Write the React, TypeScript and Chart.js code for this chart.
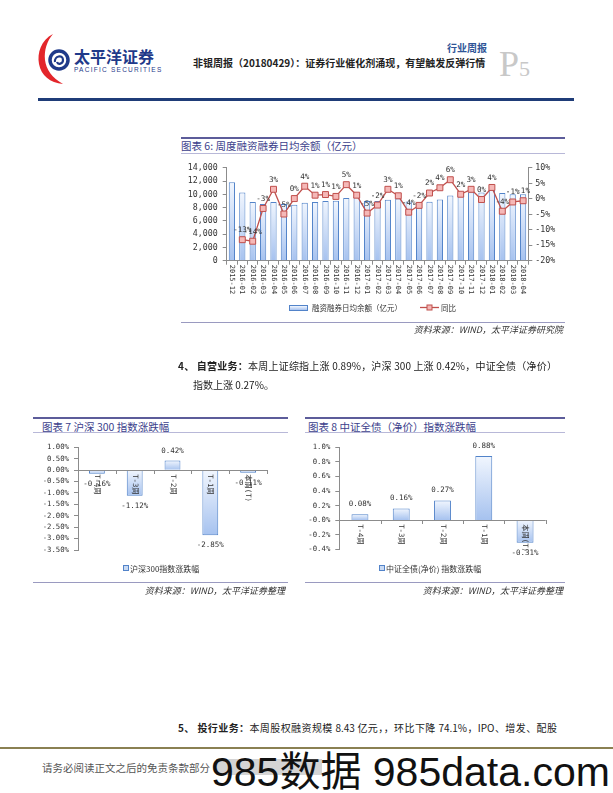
import React, { useEffect, useRef } from "react";
import { Chart, registerables } from "chart.js";
Chart.register(...registerables);

// ---------- data ----------
const months = ["2015-12","2016-01","2016-02","2016-03","2016-04","2016-05","2016-06","2016-07","2016-08","2016-09","2016-10","2016-11","2016-12","2017-01","2017-02","2017-03","2017-04","2017-05","2017-06","2017-07","2017-08","2017-09","2017-10","2017-11","2017-12","2018-01","2018-02","2018-03","2018-04"];
const marginBalance = [11850,10280,8850,8580,8870,8550,8430,8750,8870,9030,9050,9470,9700,9000,9000,9200,9400,8950,8800,8900,9240,9830,10170,10330,10300,10780,10220,10050,10050];
const yoyPct: (number | null)[] = [null,-13.2,-13.7,-3.1,3.1,-4.9,0.1,4.1,1.2,1.4,0.8,4.6,1.2,-4.6,-2.0,3.1,1.0,-4.3,-2.1,1.9,3.6,6.2,1.5,3.1,-0.2,3.7,-4.0,-1.0,-0.6];

const weekLabels = ["T-4周","T-3周","T-2周","T-1周","本周(T)"];
const hs300Change = [-0.16,-1.12,0.42,-2.85,-0.11];
const bondChange = [0.08,0.16,0.27,0.88,-0.31];

const balanceAxis = { min: 0, max: 14000, step: 2000 };
const yoyAxis = { min: -20, max: 10, step: 5 };
const hs300Axis = { min: -3.5, max: 1, step: 0.5 };
const bondAxis = { min: -0.4, max: 1, step: 0.2 };

// ---------- styles ----------
const AXIS = "#8c8c8c";
const MONO = "'DejaVu Sans Mono', 'Noto Sans CJK SC', monospace";
const CJK = "'Noto Sans CJK SC', 'Noto Sans', sans-serif";
const TITLE_COLOR = "#3c3f8c";

function barGradient(c: any) {
  const chart = c.chart;
  const axisId = (c.dataset && c.dataset.yAxisID) || "y";
  const y = chart.scales && chart.scales[axisId];
  const v = c.raw;
  if (!y || typeof v !== "number") return "#c5d7f2";
  const top = y.getPixelForValue(Math.max(v, 0));
  const bot = y.getPixelForValue(Math.min(v, 0));
  if (!isFinite(top) || !isFinite(bot) || Math.abs(top - bot) < 0.5) return "#c5d7f2";
  const g = chart.ctx.createLinearGradient(0, top, 0, bot);
  g.addColorStop(0, "#f1f6fe");
  g.addColorStop(1, "#a6c2ef");
  return g;
}

const rotatedLabels = {
  id: "rotLabels",
  afterDraw(chart: any, _a: any, opts: any) {
    const { ctx, chartArea } = chart;
    const xs = chart.scales.x;
    const ys = chart.scales[opts.axis || "y"];
    const y0 = opts.atZero ? ys.getPixelForValue(0) : chartArea.bottom;
    ctx.save();
    ctx.font = opts.font;
    ctx.fillStyle = opts.color;
    ctx.textAlign = "left";
    ctx.textBaseline = "middle";
    (chart.data.labels as string[]).forEach((lab, i) => {
      const px = xs.getPixelForValue(i);
      ctx.save();
      ctx.translate(px, y0 + opts.gap);
      ctx.rotate(Math.PI / 2);
      ctx.fillText(lab, 0, 0);
      ctx.restore();
    });
    ctx.restore();
  },
};

const zeroAxis = {
  id: "zeroAxis",
  afterDatasetsDraw(chart: any) {
    const { ctx, chartArea } = chart;
    const y0 = chart.scales.y.getPixelForValue(0);
    const n = chart.data.labels.length;
    const w = (chartArea.right - chartArea.left) / n;
    ctx.save();
    ctx.strokeStyle = AXIS;
    ctx.lineWidth = 1;
    ctx.beginPath();
    ctx.moveTo(chartArea.left, Math.round(y0) + 0.5);
    ctx.lineTo(chartArea.right, Math.round(y0) + 0.5);
    for (let i = 1; i <= n; i++) {
      const x = Math.round(chartArea.left + i * w) + 0.5;
      ctx.moveTo(x, Math.round(y0));
      ctx.lineTo(x, Math.round(y0) + 4);
    }
    ctx.stroke();
    ctx.restore();
  },
};

const valueLabels = {
  id: "valLabels",
  afterDatasetsDraw(chart: any, _a: any, opts: any) {
    const idx = opts.datasetIndex || 0;
    const meta = chart.getDatasetMeta(idx);
    const ds = chart.data.datasets[idx];
    const { ctx } = chart;
    ctx.save();
    ctx.font = opts.font;
    ctx.fillStyle = opts.color;
    ctx.textAlign = "center";
    ctx.textBaseline = "middle";
    meta.data.forEach((el: any, i: number) => {
      const v = ds.data[i];
      if (v == null) return;
      let ty: number;
      if (opts.mode === "point") ty = el.y - opts.offset;
      else ty = v >= 0 ? el.y - opts.offset : el.y + opts.offset;
      ctx.fillText(opts.format(v), el.x, ty);
    });
    ctx.restore();
  },
};

function yScale(ax: any, pos: string, fmt: (v: number) => string, fontSize: number, width: number, pad = 4) {
  return {
    position: pos,
    min: ax.min,
    max: ax.max,
    ticks: { stepSize: ax.step, autoSkip: false, callback: (v: any) => fmt(Number(v)), font: { family: MONO, size: fontSize }, color: "#333", padding: pad },
    grid: { drawOnChartArea: false, drawTicks: true, tickLength: 4, color: AXIS },
    border: { display: true, color: AXIS },
    afterFit: (s: any) => { s.width = width; },
  };
}

function makeMarginChart(): any {
  return {
    type: "bar",
    data: {
      labels: months,
      datasets: [
        {
          type: "line", label: "同比", data: yoyPct, yAxisID: "y1", order: 0,
          borderColor: "#c0504d", borderWidth: 1.3, pointStyle: "rect", pointRadius: 4.2,
          pointBackgroundColor: "#f5b8b7", pointBorderColor: "#c0504d", pointBorderWidth: 1, tension: 0,
        },
        {
          type: "bar", label: "融资融券日均余额（亿元）", data: marginBalance, yAxisID: "y", order: 1,
          backgroundColor: barGradient, borderColor: "#5283c9", borderWidth: 1,
          barPercentage: 0.6, categoryPercentage: 1,
        },
      ],
    },
    options: {
      responsive: false, animation: false, devicePixelRatio: 1,
      layout: { padding: { top: 5.7, left: 0, right: 0, bottom: 0 } },
      plugins: {
        legend: { display: false }, tooltip: { enabled: false },
        rotLabels: { font: `7px ${MONO}`, color: "#333", gap: 4 },
        valLabels: { datasetIndex: 0, mode: "point", offset: 9.5, font: `7.6px ${MONO}`, color: "#333", format: (v: number) => `${Math.round(v) || 0}%` },
      },
      scales: {
        x: {
          grid: { display: true, drawOnChartArea: false, drawTicks: true, tickLength: 4, color: AXIS, offset: true },
          border: { display: true, color: AXIS },
          ticks: { display: false },
          afterFit: (s: any) => { s.height = 42.3; },
        },
        y: yScale(balanceAxis, "left", (v) => v.toLocaleString("en-US"), 8.3, 46.7, 5),
        y1: yScale(yoyAxis, "right", (v) => `${v}%`, 8.3, 31.7, 3),
      },
    },
    plugins: [rotatedLabels, valueLabels],
  };
}

function makeWeekChart(values: number[], ax: any, decimals: number, yWidth: number, padRight: number, padTop: number, padBottom: number, barPct: number, label: string): any {
  return {
    type: "bar",
    data: {
      labels: weekLabels,
      datasets: [{
        label, data: values, backgroundColor: barGradient, borderColor: "#5283c9", borderWidth: 1,
        barPercentage: barPct, categoryPercentage: 1,
      }],
    },
    options: {
      responsive: false, animation: false, devicePixelRatio: 1,
      layout: { padding: { top: padTop, left: 0, right: padRight, bottom: padBottom } },
      plugins: {
        legend: { display: false }, tooltip: { enabled: false },
        rotLabels: { font: `7.3px ${MONO}`, color: "#333", gap: 4, atZero: true },
        valLabels: { datasetIndex: 0, mode: "bar", offset: 10, font: `7.5px ${MONO}`, color: "#333", format: (v: number) => `${v.toFixed(2)}%` },
      },
      scales: {
        x: { display: false },
        y: yScale(ax, "left", (v) => `${v.toFixed(decimals)}%`, 7.3, yWidth, 5),
      },
    },
    plugins: [zeroAxis, rotatedLabels, valueLabels],
  };
}

function ChartBox({ left, top, width, height, make }: any) {
  const ref = useRef<HTMLCanvasElement>(null);
  useEffect(() => {
    const c = new Chart(ref.current as HTMLCanvasElement, make());
    return () => c.destroy();
  }, []);
  return <canvas ref={ref} width={width} height={height} style={{ position: "absolute", left, top, width, height }} />;
}

function Txt({ x, y, size, children, style, right }: any) {
  const lh = Math.round(size * 1.4);
  const s: any = { position: "absolute", top: y - lh / 2, lineHeight: lh + "px", fontSize: size, whiteSpace: "nowrap", fontFamily: CJK, color: "#222", ...style };
  if (right) s.right = 613 - x; else s.left = x;
  return <div style={s}>{children}</div>;
}

function HLine({ x, y, w, h = 1, color }: any) {
  return <div style={{ position: "absolute", left: x, top: y, width: w, height: h, background: color }} />;
}

export default function App() {
  return (
    <div style={{ position: "absolute", left: 0, top: 0, width: 613, height: 793, background: "#fff", overflow: "hidden", fontFamily: CJK }}>
      {/* header logo */}
      <svg style={{ position: "absolute", left: 36, top: 33 }} width="38" height="52" viewBox="0 0 38 52">
        <path d="M17 1 C5 7 1 20 3 31 C5 42 14 50 27 51 C16 45 10 36 9 27 C8 17 11 8 17 1 Z" fill="#e3262b" />
        <circle cx="23" cy="27" r="9" fill="none" stroke="#1f3a8a" strokeWidth="3.5" />
        <path d="M19 29 C18 23 27 21 27 27 C27 31 22 32 21 29" fill="none" stroke="#1f3a8a" strokeWidth="2.2" />
      </svg>
      <Txt x={74} y={56} size={16} style={{ fontWeight: 700, color: "#1f3a8a", letterSpacing: 0 }}>太平洋证券</Txt>
      <Txt x={74} y={69} size={6.5} style={{ color: "#1f3a8a", letterSpacing: 1.25, fontFamily: "'Liberation Sans', sans-serif" }}>PACIFIC SECURITIES</Txt>
      <Txt x={447} y={48} size={10} style={{ fontWeight: 700, color: "#2f5597" }}>行业周报</Txt>
      <Txt x={193} y={63} size={10} style={{ fontWeight: 700, color: "#222" }}>非银周报（20180429）：证券行业催化剂涌现，有望触发反弹行情</Txt>
      <div style={{ position: "absolute", left: 499, top: 46, lineHeight: "36px", fontFamily: "'Liberation Serif', serif", color: "#c8c8c8", whiteSpace: "nowrap" }}>
        <span style={{ fontSize: 36 }}>P</span><span style={{ fontSize: 22 }}>5</span>
      </div>
      <HLine x={38} y={98} w={536} h={3} color="#1f3c78" />

      {/* figure 6 */}
      <HLine x={181} y={137} w={384} h={1.5} color="#5c5c9a" />
      <Txt x={181} y={145.5} size={10.5} style={{ color: TITLE_COLOR }}>图表 6: 周度融资融券日均余额（亿元）</Txt>
      <HLine x={181} y={153} w={384} h={1} color="#b8b8d8" />
      <ChartBox left={180} top={158} width={380} height={145} make={makeMarginChart} />
      <div style={{ position: "absolute", left: 289, top: 305, width: 17, height: 4, border: "1px solid #5283c9", background: "linear-gradient(#f1f6fe,#a6c2ef)" }} />
      <Txt x={312} y={307.5} size={7.5} style={{ color: "#333" }}>融资融券日均余额（亿元）</Txt>
      <svg style={{ position: "absolute", left: 420, top: 303 }} width="19" height="9">
        <line x1="0" y1="4.5" x2="19" y2="4.5" stroke="#c0504d" strokeWidth="1.3" />
        <rect x="7" y="2" width="5" height="5" fill="#f5b8b7" stroke="#c0504d" strokeWidth="1" />
      </svg>
      <Txt x={441} y={307.5} size={7.5} style={{ color: "#333" }}>同比</Txt>
      <HLine x={181} y={322} w={384} h={1} color="#9a9ac0" />
      <Txt x={563} y={329.5} size={9} right style={{ fontStyle: "italic", color: "#333" }}>资料来源：WIND，太平洋证券研究院</Txt>

      {/* paragraph 4 */}
      <Txt x={178} y={366} size={10} style={{ width: 379, textAlignLast: "justify", textAlign: "justify" }}>
        <b>4、 自营业务：</b>本周上证综指上涨 0.89%，沪深 300 上涨 0.42%，中证全债（净价）
      </Txt>
      <Txt x={193} y={385} size={10}>指数上涨 0.27%。</Txt>

      {/* figure 7 */}
      <HLine x={33} y={417} w={255} h={1.5} color="#5c5c9a" />
      <Txt x={42} y={426} size={10.5} style={{ color: TITLE_COLOR }}>图表 7 沪深 300 指数涨跌幅</Txt>
      <HLine x={33} y={432} w={255} h={1} color="#b8b8d8" />
      <ChartBox left={33} top={438} width={255} height={128}
        make={() => makeWeekChart(hs300Change, hs300Axis, 2, 45, 21, 7.3, 16, 0.42, "沪深300指数涨跌幅")} />
      <div style={{ position: "absolute", left: 123, top: 565, width: 4, height: 4, border: "1px solid #5283c9", background: "#c9daf3" }} />
      <Txt x={130} y={568} size={8} style={{ color: "#333" }}>沪深300指数涨跌幅</Txt>
      <HLine x={33} y={582} w={255} h={1} color="#9a9ac0" />
      <Txt x={285} y={590} size={9} right style={{ fontStyle: "italic", color: "#333" }}>资料来源：WIND，太平洋证券整理</Txt>

      {/* figure 8 */}
      <HLine x={305} y={417} w={260} h={1.5} color="#5c5c9a" />
      <Txt x={308} y={426} size={10.5} style={{ color: TITLE_COLOR }}>图表 8 中证全债（净价）指数涨跌幅</Txt>
      <HLine x={305} y={432} w={260} h={1} color="#b8b8d8" />
      <ChartBox left={305} top={438} width={260} height={128}
        make={() => makeWeekChart(bondChange, bondAxis, 1, 34.3, 19.3, 7, 16.7, 0.41, "中证全债(净价) 指数涨跌幅")} />
      <div style={{ position: "absolute", left: 379, top: 565, width: 4, height: 4, border: "1px solid #5283c9", background: "#c9daf3" }} />
      <Txt x={386} y={568} size={8} style={{ color: "#333" }}>中证全债(净价) 指数涨跌幅</Txt>
      <HLine x={305} y={582} w={260} h={1} color="#9a9ac0" />
      <Txt x={563} y={590} size={9} right style={{ fontStyle: "italic", color: "#333" }}>资料来源：WIND，太平洋证券整理</Txt>

      {/* paragraph 5 */}
      <Txt x={178} y={728} size={10} style={{ width: 379, textAlignLast: "justify", textAlign: "justify" }}>
        <b>5、 投行业务：</b>本周股权融资规模 8.43 亿元，，环比下降 74.1%，IPO、增发、配股
      </Txt>

      {/* footer */}
      <HLine x={0} y={747} w={613} h={2} color="#8a8052" />
      <Txt x={42} y={767} size={10.5} style={{ color: "#555" }}>请务必阅读正文之后的免责条款部分</Txt>
      <div style={{ position: "absolute", left: 216, top: 759, width: 106, height: 16, background: "#d4d4d4" }} />
      <div style={{ position: "absolute", left: 211, top: 752, lineHeight: "41px", fontSize: 41, fontFamily: "'Liberation Sans', 'Noto Sans CJK SC', sans-serif", color: "#111", whiteSpace: "nowrap" }}>985数据 985data.com</div>
    </div>
  );
}
